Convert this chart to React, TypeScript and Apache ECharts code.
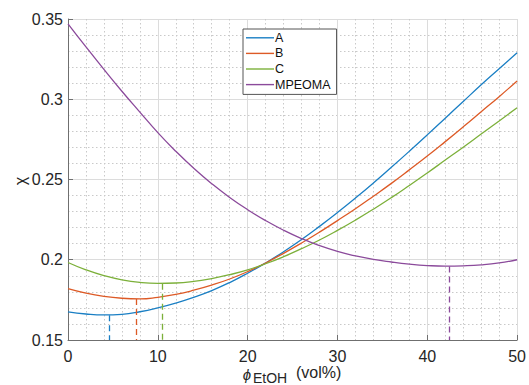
import React, { useEffect, useRef } from "react";
import * as echarts from "echarts";

const xs = [0, 2, 4, 6, 8, 10, 12, 14, 16, 18, 20, 22, 24, 26, 28, 30, 32, 34, 36, 38, 40, 42, 44, 46, 48, 50];
const seriesNames = ["A", "B", "C", "MPEOMA"];
const valuesA = [0.1675, 0.1662, 0.1656, 0.166, 0.1676, 0.17, 0.173, 0.1766, 0.1808, 0.1858, 0.1916, 0.198, 0.205, 0.2126, 0.2208, 0.2294, 0.2384, 0.2478, 0.2576, 0.2676, 0.2778, 0.2882, 0.2986, 0.309, 0.319, 0.329];
const valuesB = [0.182, 0.1792, 0.1772, 0.176, 0.1756, 0.1766, 0.1784, 0.181, 0.1842, 0.188, 0.1926, 0.198, 0.204, 0.2104, 0.2172, 0.2244, 0.2318, 0.2396, 0.2476, 0.256, 0.2646, 0.2736, 0.2828, 0.2922, 0.3016, 0.3114];
const valuesC = [0.1983, 0.1937, 0.1901, 0.1875, 0.1859, 0.1853, 0.1855, 0.1865, 0.1883, 0.1907, 0.1937, 0.1975, 0.2019, 0.2069, 0.2123, 0.2183, 0.2247, 0.2315, 0.2387, 0.2463, 0.2541, 0.2621, 0.2701, 0.2783, 0.2865, 0.2947];
const valuesM = [0.347, 0.3326, 0.3186, 0.305, 0.292, 0.2792, 0.2676, 0.257, 0.2474, 0.2388, 0.2312, 0.2244, 0.2184, 0.2132, 0.2088, 0.2052, 0.2024, 0.2002, 0.1986, 0.1973, 0.1964, 0.196, 0.1962, 0.1968, 0.198, 0.2];
const minX = [4.55, 7.57, 10.5, 42.5];
const minY = [0.1654, 0.1755, 0.185, 0.1958];
const colors = ["#1a7fc4", "#dd5a26", "#7cb03a", "#8b4a9b"];

const FONT = "'Liberation Sans', Arial, Helvetica, sans-serif";

export default function App() {
  const ref = useRef<HTMLDivElement>(null);
  useEffect(() => {
    if (!ref.current) return;
    const chart = echarts.init(ref.current, undefined, { renderer: "svg" });
    const allValues = [valuesA, valuesB, valuesC, valuesM];
    const series = allValues.map((vals, i) => ({
      name: seriesNames[i],
      type: "line",
      data: xs.map((x, j) => [x, vals[j]]),
      smooth: true,
      symbol: "none",
      showSymbol: false,
      lineStyle: { color: colors[i], width: 1.3 },
      itemStyle: { color: colors[i] },
      markLine: {
        silent: true,
        symbol: ["none", "none"],
        label: { show: false },
        lineStyle: { color: colors[i], type: [6, 4], width: 1.3 },
        data: [[{ coord: [minX[i], minY[i]] }, { coord: [minX[i], 0.15] }]],
      },
    }));
    chart.setOption({
      animation: false,
      backgroundColor: "#ffffff",
      grid: { left: 68, right: 7, top: 19, bottom: 45, containLabel: false },
      legend: {
        orient: "vertical",
        left: 243,
        top: 29,
        padding: [1, 6, 2, 3],
        itemGap: 0,
        itemWidth: 28,
        itemHeight: 1.4,
        icon: "rect",
        backgroundColor: "#ffffff",
        borderColor: "#555555",
        borderWidth: 1,
        borderRadius: 0,
        textStyle: { fontFamily: FONT, fontSize: 12.5, color: "#111111", lineHeight: 15.6, padding: [0, 0, 0, -4] },
        data: seriesNames,
      },
      xAxis: {
        type: "value",
        min: 0,
        max: 50,
        interval: 10,
        axisLine: { show: true, onZero: false, lineStyle: { color: "#6f6f6f", width: 1 } },
        axisTick: { show: true, inside: true, length: 5, lineStyle: { color: "#6f6f6f" } },
        axisLabel: { fontFamily: FONT, fontSize: 16, color: "#262626", margin: 8 },
        splitLine: { show: true, lineStyle: { color: "#dcdcdc", width: 1 } },
        minorTick: { show: false, splitNumber: 5 },
        minorSplitLine: { show: true, lineStyle: { color: "#c9c9c9", width: 1, type: [1.5, 2.5] } },
      },
      yAxis: {
        type: "value",
        min: 0.15,
        max: 0.35,
        interval: 0.05,
        axisLine: { show: true, onZero: false, lineStyle: { color: "#6f6f6f", width: 1 } },
        axisTick: { show: true, inside: true, length: 5, lineStyle: { color: "#6f6f6f" } },
        axisLabel: { fontFamily: FONT, fontSize: 16, color: "#262626", margin: 5 },
        splitLine: { show: true, lineStyle: { color: "#dcdcdc", width: 1 } },
        minorTick: { show: false, splitNumber: 5 },
        minorSplitLine: { show: true, lineStyle: { color: "#c9c9c9", width: 1, type: [1.5, 2.5] } },
      },
      graphic: [
        {
          type: "text",
          x: 20,
          y: 181,
          rotation: Math.PI / 2,
          style: { text: "χ", fontFamily: FONT, fontSize: 16, fill: "#262626", align: "center", verticalAlign: "middle" },
        },
        {
          type: "text",
          x: 247,
          y: 374,
          style: { text: "ϕ", fontFamily: FONT, fontSize: 15, fontStyle: "italic", fill: "#262626", align: "center", verticalAlign: "middle" },
        },
        {
          type: "text",
          x: 253,
          y: 377.5,
          style: { text: "EtOH", fontFamily: FONT, fontSize: 14, fill: "#262626", align: "left", verticalAlign: "middle" },
        },
        {
          type: "text",
          x: 296,
          y: 372.5,
          style: { text: "(vol%)", fontFamily: FONT, fontSize: 16, fill: "#262626", align: "left", verticalAlign: "middle" },
        },
      ],
      series,
    });
    return () => chart.dispose();
  }, []);
  return <div ref={ref} style={{ width: 529, height: 385, position: "fixed", left: 0, top: 0 }} />;
}
